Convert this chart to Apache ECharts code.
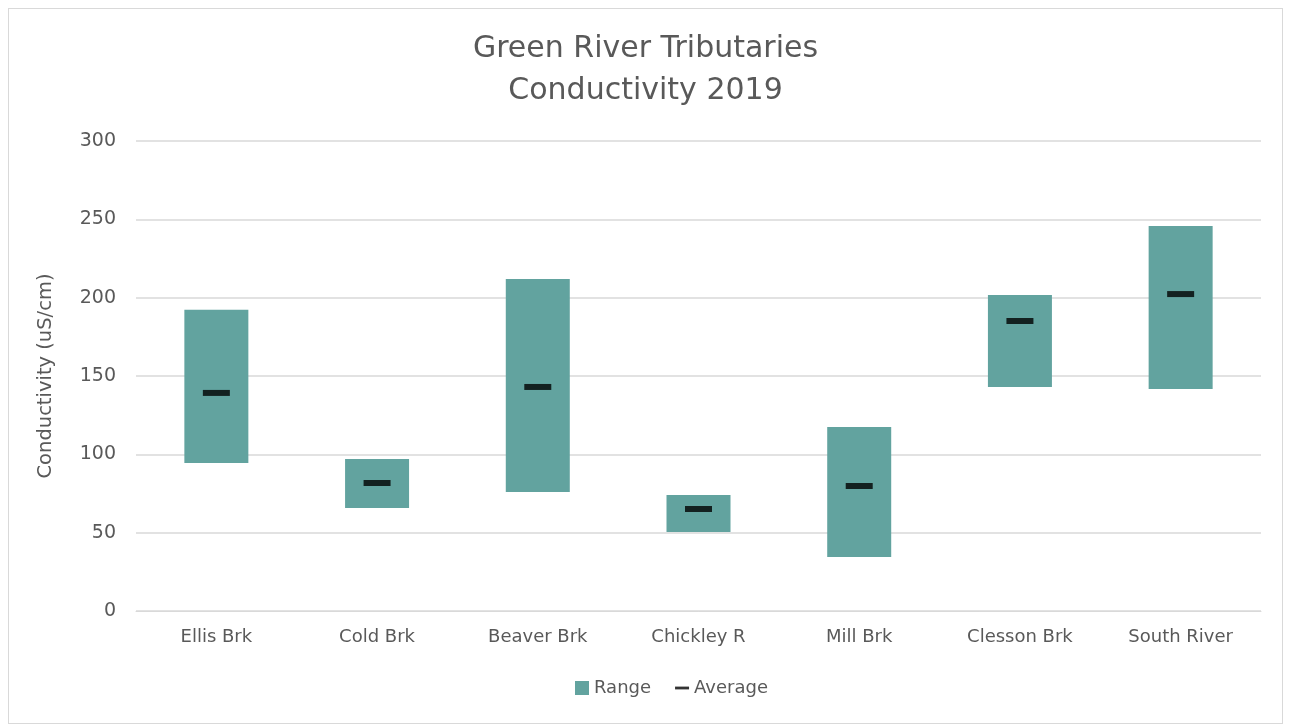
<!DOCTYPE html>
<html>
<head>
<meta charset="utf-8">
<script src="https://cdn.jsdelivr.net/npm/echarts@6/dist/echarts.min.js"></script>
<style>
  html, body { margin: 0; padding: 0; background: #fff; }
  #frame { position: absolute; left: 8px; top: 8px; width: 1275px; height: 716px; border: 1px solid #d9d9d9; box-sizing: border-box; }
  #chart { position: absolute; left: 0; top: 0; width: 1291px; height: 724px; }
</style>
</head>
<body>
<div id="frame"></div>
<div id="chart"></div>
<script>
// Conductivity ranges (uS/cm) for each tributary in 2019
const sites = ['Ellis Brk', 'Cold Brk', 'Beaver Brk', 'Chickley R', 'Mill Brk', 'Clesson Brk', 'South River'];
const lowValues  = [94.5, 65.7, 76.0, 50.4, 34.5, 143.0, 141.7];
const highValues = [192.3, 97.0, 211.9, 74.0, 117.4, 201.7, 245.7];
const avgValues  = [139.2, 81.7, 143.0, 65.1, 79.8, 185.1, 202.3];

const spanValues = highValues.map((h, i) => +(h - lowValues[i]).toFixed(1));

const fontFamily = '"DejaVu Sans", sans-serif';
const textColor = '#595959';

const chart = echarts.init(document.getElementById('chart'));
chart.setOption({
  animation: false,
  title: {
    text: 'Green River Tributaries\nConductivity 2019',
    left: 'center',
    top: 23,
    textStyle: { fontFamily, fontSize: 30, fontWeight: 'normal', color: textColor, lineHeight: 42 }
  },
  legend: {
    bottom: 22,
    left: 570,
    itemWidth: 14,
    itemHeight: 14,
    itemGap: 24,
    textStyle: { fontFamily, fontSize: 18, color: textColor },
    data: [
      { name: 'Range', icon: 'rect' },
      { name: 'Average', icon: 'path://M0,0h20v4h-20z' }
    ]
  },
  grid: { left: 136, right: 30, top: 141, bottom: 113 },
  xAxis: {
    type: 'category',
    data: sites,
    axisLine: { lineStyle: { color: '#d9d9d9', width: 1 } },
    axisTick: { show: false },
    axisLabel: { fontFamily, fontSize: 18, color: textColor, margin: 17 }
  },
  yAxis: {
    type: 'value',
    min: 0,
    max: 300,
    interval: 50,
    name: 'Conductivity (uS/cm)',
    nameLocation: 'middle',
    nameGap: 80,
    nameTextStyle: { fontFamily, fontSize: 19.5, color: textColor },
    axisLine: { show: false },
    axisTick: { show: false },
    axisLabel: { fontFamily, fontSize: 19, color: textColor, margin: 20 },
    splitLine: { lineStyle: { color: '#d9d9d9', width: 1.5 } }
  },
  series: [
    {
      name: 'Base',
      type: 'bar',
      stack: 'range',
      data: lowValues,
      barWidth: 64,
      itemStyle: { color: 'transparent' },
      emphasis: { disabled: true },
      silent: true
    },
    {
      name: 'Range',
      type: 'bar',
      stack: 'range',
      data: spanValues,
      barWidth: 64,
      itemStyle: { color: '#62a39f' }
    },
    {
      name: 'Average',
      type: 'scatter',
      data: avgValues,
      symbol: 'rect',
      symbolSize: [27, 6],
      itemStyle: { color: '#000000' },
      z: 5
    }
  ]
});
</script>
</body>
</html>
